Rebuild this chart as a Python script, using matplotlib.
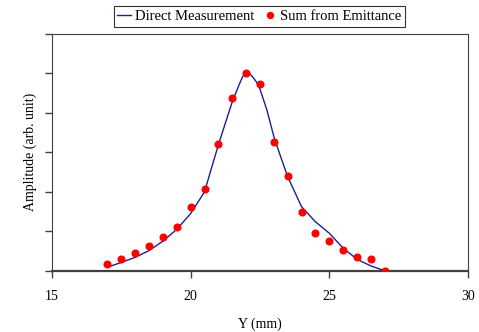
import numpy as np
import matplotlib.pyplot as plt

plt.rcParams['font.family'] = ['Liberation Serif', 'DejaVu Serif']
plt.rcParams['font.size'] = 10

y_line = [17.0, 17.5, 18.0, 18.5, 19.0, 19.5, 20.0, 20.5, 20.75, 21.0, 21.25,
          21.5, 21.75, 21.875, 22.0, 22.125, 22.25, 22.375, 22.5, 22.75,
          23.0, 23.25, 23.5, 24.0, 24.5, 25.0, 25.5, 26.0, 26.5, 27.0]
amp_line = [0.09, 0.21, 0.34, 0.51, 0.75, 1.05, 1.45, 2.0, 2.6, 3.19, 3.74,
            4.28, 4.72, 4.92, 5.01, 5.0, 4.9, 4.78, 4.6, 4.07,
            3.4, 2.88, 2.38, 1.62, 1.24, 0.95, 0.57, 0.29, 0.12, 0.0]

# sum from emittance (points)
y_pts = [17.0, 17.5, 18.0, 18.5, 19.0, 19.5, 20.0, 20.5, 21.0, 21.5, 22.0,
         22.5, 23.0, 23.5, 24.0, 24.5, 25.0, 25.5, 26.0, 26.5, 27.0]
amp_pts = [0.16, 0.29, 0.46, 0.63, 0.85, 1.10, 1.61, 2.08, 3.20, 4.37, 5.01,
           4.74, 3.25, 2.39, 1.50, 0.96, 0.75, 0.52, 0.34, 0.29, 0.0]

fig = plt.figure(figsize=(4.79, 3.32), dpi=100)
ax = fig.add_axes([0.1086, 0.1846, 0.8684, 0.713])

ax.plot(y_line, amp_line, color='#1f1f8f', lw=1.0, label='Direct Measurement')
ax.plot(y_pts, amp_pts, 'o', color='red', ms=4.8, mec='red',
        label='Sum from Emittance', zorder=3)

ax.set_xlim(15, 30)
ax.set_ylim(0, 6)
ax.set_xticks([15, 20, 25, 30])
ax.set_yticks(np.arange(0, 7, 1))
ax.set_yticklabels([])
ax.tick_params(direction='out', length=5, width=1, color='#404040')
ax.tick_params(axis='x', pad=9)
for s in ax.spines.values():
    s.set_color('#404040')
ax.spines['bottom'].set_linewidth(1.6)

ax.set_xlabel('Y (mm)', labelpad=10)
ax.set_ylabel('Amplitude (arb. unit)', labelpad=2)

leg = fig.legend(loc='center', bbox_to_anchor=(0.542, 0.95), ncol=2,
                 frameon=True, fancybox=False, edgecolor='black',
                 handlelength=0.9, handletextpad=0.3, columnspacing=0.6,
                 borderpad=0.25, fontsize=10.5, markerscale=0.9)
leg.get_frame().set_linewidth(0.8)

fig.savefig('out.png', dpi=100)
